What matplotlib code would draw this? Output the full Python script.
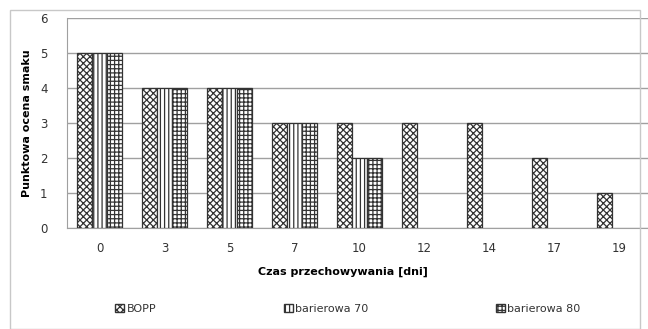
import matplotlib
matplotlib.use("Agg")
import matplotlib.pyplot as plt
import numpy as np
from matplotlib.patches import Rectangle, Patch

categories = ["0", "3", "5", "7", "10", "12", "14", "17", "19"]
bopp = [5, 4, 4, 3, 3, 3, 3, 2, 1]
barierowa70 = [5, 4, 4, 3, 2, None, None, None, None]
barierowa80 = [5, 4, 4, 3, 2, None, None, None, None]
series_names = ["BOPP", "barierowa 70", "barierowa 80"]

plt.rcParams['hatch.linewidth'] = 0.9
fig = plt.figure(figsize=(6.48, 3.29), dpi=100)
ax = fig.add_axes([67/648, 1-228/329, 585/648, 210/329])

x = np.arange(len(categories))
w = 0.23
hatches = ["xxxxx", "||||", "++++"]
series = [bopp, barierowa70, barierowa80]
for i, (vals, h, name) in enumerate(zip(series, hatches, series_names)):
    xs = [xx + (i-1)*w for xx, v in zip(x, vals) if v is not None]
    vs = [v for v in vals if v is not None]
    ax.bar(xs, vs, width=w, color="white", edgecolor="#333333", hatch=h, linewidth=0.9, label=name, zorder=3)

ax.set_xlim(-0.5, len(categories)-0.5)
ax.set_ylim(0, 6)
ax.set_yticks(range(0, 7))
ax.set_xticks(x)
ax.set_xticklabels(categories)
ax.grid(axis="y", color="#a0a0a0", linewidth=1.0, zorder=0)
ax.tick_params(axis="both", length=0, labelsize=8.5, colors="#333333")
ax.tick_params(axis="y", pad=14)
ax.tick_params(axis="x", pad=10)
for s in ["top", "right"]:
    ax.spines[s].set_visible(False)
ax.spines["left"].set_color("#a0a0a0")
ax.spines["bottom"].set_color("#a0a0a0")

ax.set_ylabel("Punktowa ocena smaku", fontsize=8, fontweight="bold", labelpad=6)
fig.text(343/648, 1-272/329, "Czas przechowywania [dni]", fontsize=8, fontweight="bold", ha="center", va="center")

handles = [Patch(facecolor="white", edgecolor="#333333", hatch=h) for h in hatches]
fig.legend(handles, series_names, loc="center", bbox_to_anchor=(348/648, 1-309/329), ncol=3,
           frameon=False, fontsize=8, handlelength=0.8, handleheight=0.8, columnspacing=11.5, handletextpad=0.2,
           labelcolor="#333333")

fig.patches.append(Rectangle((10/648, 0), 630/648, 1-10/329, transform=fig.transFigure,
                             fill=False, edgecolor="#c8c8c8", linewidth=1.0))

fig.savefig("out.png", dpi=100)
